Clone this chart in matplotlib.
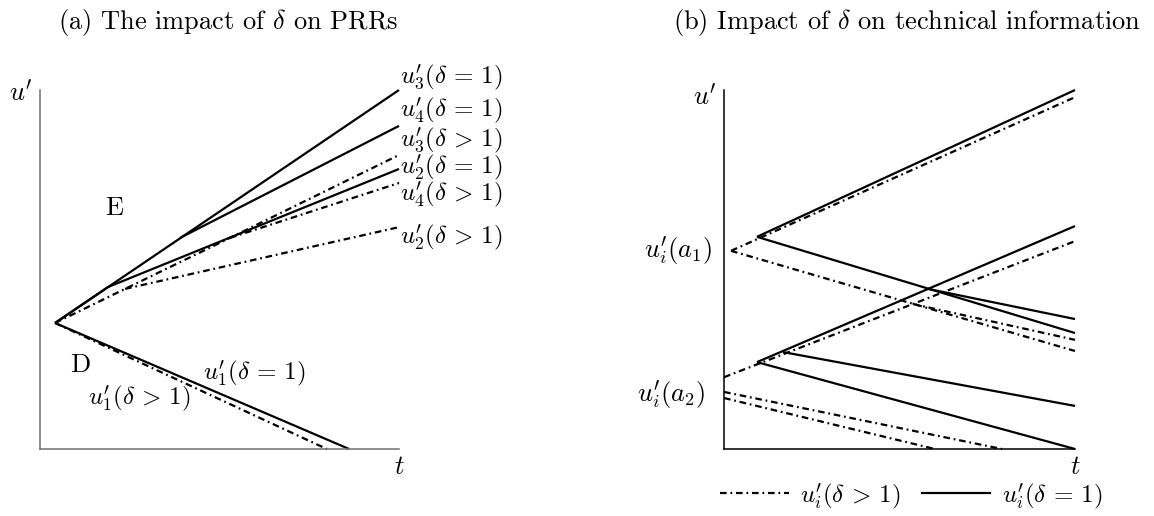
import matplotlib
matplotlib.use("Agg")
import matplotlib.pyplot as plt
from matplotlib.lines import Line2D

plt.rcParams['font.family'] = 'cmr10'
plt.rcParams['mathtext.fontset'] = 'cm'
plt.rcParams['axes.formatter.use_mathtext'] = True

# ---------------- data: panel (a) ----------------
a_u3_eq_t = [0.042, 1.0]
a_u3_eq_u = [0.351, 1.0]
a_u4_eq_t = [0.39, 1.0]
a_u4_eq_u = [0.588, 0.90]
a_u2_eq_t = [0.042, 0.189, 1.0]
a_u2_eq_u = [0.351, 0.451, 0.78]
a_u3_gt_t = [0.042, 0.237, 0.529, 1.0]
a_u3_gt_u = [0.351, 0.446, 0.588, 0.819]
a_u4_gt_t = [0.529, 1.0]
a_u4_gt_u = [0.588, 0.741]
a_u2_gt_t = [0.237, 1.0]
a_u2_gt_u = [0.446, 0.618]
a_u1_eq_t = [0.042, 0.861]
a_u1_eq_u = [0.351, 0.0]
a_u1_gt_t = [0.042, 0.799]
a_u1_gt_u = [0.351, 0.0]

a_right_labels = [r"$u_3'(\delta\,=\,1)$", r"$u_4'(\delta\,=\,1)$", r"$u_3'(\delta\,>\,1)$",
                  r"$u_2'(\delta\,=\,1)$", r"$u_4'(\delta\,>\,1)$", r"$u_2'(\delta\,>\,1)$"]
a_right_label_u = [1.036, 0.944, 0.861, 0.786, 0.710, 0.590]

# ---------------- data: panel (b) ----------------
b_solid_lines = {
    "a1_up":     ([0.094, 1.0], [0.591, 1.0]),
    "a1_down":   ([0.094, 1.0], [0.591, 0.323]),
    "a1_branch": ([0.581, 1.0], [0.446, 0.362]),
    "a2_up":     ([0.094, 1.0], [0.242, 0.621]),
    "a2_down":   ([0.094, 1.0], [0.242, 0.0]),
    "a2_branch": ([0.168, 1.0], [0.270, 0.120]),
}
b_dash_lines = {
    "a1_up":     ([0.020, 1.0], [0.552, 0.980]),
    "a1_down":   ([0.020, 1.0], [0.552, 0.273]),
    "a1_branch": ([0.538, 1.0], [0.404, 0.304]),
    "a2_up":     ([0.0, 1.0], [0.200, 0.579]),
    "a2_low1":   ([0.0, 0.792], [0.159, 0.0]),
    "a2_low2":   ([0.0, 0.601], [0.142, 0.0]),
}

DASH = (0, (3.0, 1.7, 0.8, 1.7))
LW = 1.6

W, H = 1154, 516
fig = plt.figure(figsize=(W / 100, H / 100), dpi=100)

def axes_px(x0, x1, ytop, ybot):
    return fig.add_axes([x0 / W, 1 - ybot / H, (x1 - x0) / W, (ybot - ytop) / H])

def style(ax, color):
    ax.set_xlim(0, 1)
    ax.set_ylim(0, 1)
    for s in ("top", "right"):
        ax.spines[s].set_visible(False)
    for s in ("left", "bottom"):
        ax.spines[s].set_color(color)
        ax.spines[s].set_linewidth(1.1)
    ax.set_xticks([])
    ax.set_yticks([])
    ax.patch.set_alpha(0)

FS = 19
FSM = 18

# ---------------- panel (a) ----------------
axa = axes_px(40, 399, 90, 449)
style(axa, "#707070")
for t, u in [(a_u3_eq_t, a_u3_eq_u), (a_u4_eq_t, a_u4_eq_u), (a_u2_eq_t, a_u2_eq_u),
             (a_u1_eq_t, a_u1_eq_u)]:
    axa.plot(t, u, color="black", lw=LW, clip_on=False, solid_capstyle="butt")
for t, u in [(a_u3_gt_t, a_u3_gt_u), (a_u4_gt_t, a_u4_gt_u), (a_u2_gt_t, a_u2_gt_u),
             (a_u1_gt_t, a_u1_gt_u)]:
    axa.plot(t, u, color="black", lw=LW, ls=DASH, clip_on=False)

for lab, u in zip(a_right_labels, a_right_label_u):
    axa.text(1.003, u, lab, fontsize=FSM, ha="left", va="center", clip_on=False)
axa.text(-0.053, 0.992, r"$u'$", fontsize=FS, ha="center", va="center")
axa.text(1.0, -0.05, r"$t$", fontsize=FS, ha="center", va="center")
axa.text(0.206, 0.671, "E", fontsize=FS, ha="center", va="center")
axa.text(0.111, 0.234, "D", fontsize=FS, ha="center", va="center")
axa.text(0.454, 0.212, r"$u_1'(\delta\,=\,1)$", fontsize=FSM, ha="left", va="center")
axa.text(0.134, 0.142, r"$u_1'(\delta\,>\,1)$", fontsize=FSM, ha="left", va="center")
fig.text(228 / W, 1 - 22 / H, r"(a) The impact of $\delta$ on PRRs", fontsize=FS,
         ha="center", va="center")

# ---------------- panel (b) ----------------
axb = axes_px(724, 1075, 90, 449)
style(axb, "black")
for t, u in b_solid_lines.values():
    axb.plot(t, u, color="black", lw=LW, clip_on=False, solid_capstyle="butt")
for t, u in b_dash_lines.values():
    axb.plot(t, u, color="black", lw=LW, ls=DASH, clip_on=False)

axb.text(-0.054, 0.98, r"$u'$", fontsize=FS, ha="center", va="center")
axb.text(1.0, -0.05, r"$t$", fontsize=FS, ha="center", va="center")
axb.text(-0.034, 0.552, r"$u_i'(a_1)$", fontsize=FS, ha="right", va="center")
axb.text(-0.054, 0.150, r"$u_i'(a_2)$", fontsize=FS, ha="right", va="center")
fig.text(907 / W, 1 - 22 / H, r"(b) Impact of $\delta$ on technical information",
         fontsize=FS, ha="center", va="center")

handles = [Line2D([], [], color="black", lw=LW, ls=DASH),
           Line2D([], [], color="black", lw=LW)]
fig.legend(handles, [r"$u_i'(\delta\,>\,1)$", r"$u_i'(\delta\,=\,1)$"], ncol=2, frameon=False,
           fontsize=FSM, loc="center", bbox_to_anchor=(911 / W, 1 - 496 / H),
           handlelength=2.75, handletextpad=0.45, columnspacing=0.85)

fig.savefig("out.png", dpi=100)
